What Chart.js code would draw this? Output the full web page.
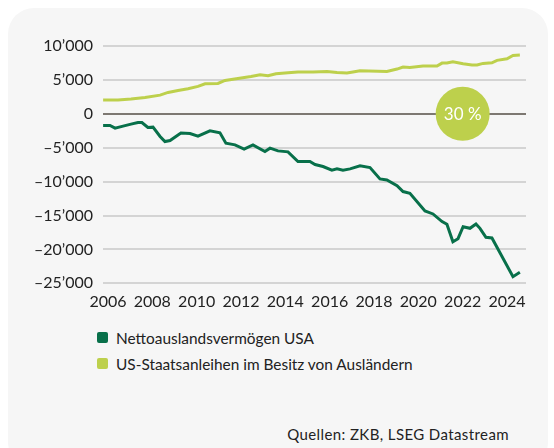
<!DOCTYPE html>
<html>
<head>
<meta charset="utf-8">
<script src="https://cdn.jsdelivr.net/npm/chart.js@4"></script>
<style>
    html, body { margin: 0; padding: 0; background: #ffffff; }
    body { width: 554px; height: 448px; position: relative; overflow: hidden; font-family: Lato, "Noto Sans", sans-serif; color: #222; }
    #panel { position: absolute; left: 8px; top: 8px; width: 540px; height: 460px; background: #f6f6f6; border-radius: 26px; }
    #chart-wrap { position: absolute; left: 0; top: 0; width: 554px; height: 312px; }
    .legend-item { position: absolute; left: 97px; font-size: 15.4px; line-height: 18px; white-space: nowrap; }
    .legend-item span.box { position: absolute; left: 0; top: 3px; width: 11px; height: 11px; border-radius: 2px; }
    .legend-item span.txt { position: absolute; left: 19px; top: 0; }
    #source { position: absolute; right: 45px; top: 425px; font-size: 15px; line-height: 18px; letter-spacing: 0.4px; }
</style>
</head>
<body>
<div id="panel"></div>
<div id="chart-wrap"><canvas id="chart" width="554" height="312"></canvas></div>
<div class="legend-item" id="leg0" style="top: 329px;"><span class="box"></span><span class="txt"></span></div>
<div class="legend-item" id="leg1" style="top: 355px;"><span class="box"></span><span class="txt"></span></div>
<div id="source">Quellen: ZKB, LSEG Datastream</div>

<script>
// Series labels
const seriesNames = ["Nettoauslandsvermögen USA", "US-Staatsanleihen im Besitz von Ausländern"];
const seriesColors = ["#08704a", "#bdd04c"];

// Nettoauslandsvermögen USA (Mrd. USD)
const netYears = [2005.78, 2006.09, 2006.32, 2006.68, 2007.04, 2007.35, 2007.53, 2007.80, 2008.03, 2008.35,
    2008.57, 2008.80, 2009.29, 2009.70, 2010.06, 2010.60, 2011.05, 2011.32, 2011.73, 2012.14,
    2012.54, 2013.08, 2013.31, 2013.67, 2014.12, 2014.57, 2015.11, 2015.34, 2015.70, 2016.10,
    2016.33, 2016.60, 2016.92, 2017.37, 2017.82, 2018.27, 2018.58, 2019.04, 2019.31, 2019.62,
    2020.30, 2020.66, 2021.07, 2021.29, 2021.56, 2021.79, 2022.02, 2022.33, 2022.60, 2022.78,
    2023.05, 2023.32, 2024.27, 2024.58];
const netValues = [-1720, -1720, -2120, -1820, -1520, -1280, -1280, -2020, -1970, -3350,
    -4090, -3940, -2850, -2900, -3300, -2510, -2810, -4330, -4580, -5210,
    -4580, -5570, -5070, -5470, -5610, -7040, -7040, -7480, -7780, -8310,
    -8120, -8310, -8120, -7680, -7930, -9600, -9750, -10590, -11470, -11720,
    -14330, -14770, -15900, -16300, -18860, -18420, -16650, -16890, -16250, -16890,
    -18210, -18310, -24020, -23380];

// US-Staatsanleihen im Besitz von Ausländern (Mrd. USD)
const bondYears = [2005.78, 2006.45, 2007.04, 2007.67, 2008.35, 2008.71, 2009.16, 2009.61, 2010.06, 2010.38,
    2010.96, 2011.28, 2011.86, 2012.45, 2012.86, 2013.22, 2013.58, 2014.12, 2014.57, 2015.25,
    2015.88, 2016.33, 2016.78, 2017.05, 2017.37, 2018.58, 2019.04, 2019.31, 2019.62, 2020.21,
    2020.84, 2021.07, 2021.29, 2021.56, 2022.02, 2022.42, 2022.65, 2022.92, 2023.32, 2023.55,
    2024.00, 2024.27, 2024.58];
const bondValues = [2050, 2050, 2170, 2400, 2750, 3150, 3450, 3700, 4040, 4430,
    4480, 4920, 5210, 5510, 5760, 5610, 5910, 6060, 6160, 6160,
    6250, 6100, 6010, 6160, 6350, 6250, 6600, 6900, 6840, 7040,
    7040, 7480, 7480, 7680, 7390, 7190, 7190, 7430, 7530, 7880,
    8120, 8610, 8660];

// Axis ticks
const xTicks = [2006, 2008, 2010, 2012, 2014, 2016, 2018, 2020, 2022, 2024];
const yTicks = [10000, 5000, 0, -5000, -10000, -15000, -20000, -25000];

// Badge on the zero line
const badgeText = "30 %";
const badgeYear = 2022;
const badgeValue = 0;

const fontFamily = "Lato, 'Noto Sans', sans-serif";

function formatThousands(v) {
    const abs = Math.abs(v);
    let s = abs >= 1000 ? Math.floor(abs / 1000) + "\u2019" + String(abs % 1000).padStart(3, "0") : String(abs);
    return v < 0 ? "\u2013" + s : s;
}

// fill html legend
[0, 1].forEach(i => {
    const el = document.getElementById("leg" + i);
    el.querySelector(".box").style.background = seriesColors[i];
    el.querySelector(".txt").textContent = seriesNames[i];
});

const badgePlugin = {
    id: "badge",
    afterDatasetsDraw(chart) {
        const { ctx, scales } = chart;
        const cx = scales.x.getPixelForValue(badgeYear);
        const cy = scales.y.getPixelForValue(badgeValue);
        ctx.save();
        ctx.beginPath();
        ctx.arc(cx, cy, 27, 0, Math.PI * 2);
        ctx.fillStyle = seriesColors[1];
        ctx.fill();
        ctx.fillStyle = "#ffffff";
        ctx.font = "17px " + fontFamily;
        ctx.textAlign = "center";
        ctx.textBaseline = "middle";
        ctx.fillText(badgeText, cx, cy + 1);
        ctx.restore();
    }
};

const ctx = document.getElementById("chart").getContext("2d");
const chart = new Chart(ctx, {
    type: "line",
    data: {
        datasets: [
            {
                label: seriesNames[1],
                data: bondYears.map((x, i) => ({ x: x, y: bondValues[i] })),
                borderColor: seriesColors[1],
                borderWidth: 3,
                pointRadius: 0,
                tension: 0,
                fill: false
            },
            {
                label: seriesNames[0],
                data: netYears.map((x, i) => ({ x: x, y: netValues[i] })),
                borderColor: seriesColors[0],
                borderWidth: 3,
                pointRadius: 0,
                tension: 0,
                fill: false
            }
        ]
    },
    options: {
        responsive: false,
        animation: false,
        layout: { padding: { left: 0, right: 28, top: 46, bottom: 0 } },
        plugins: {
            legend: { display: false },
            tooltip: { enabled: false }
        },
        scales: {
            x: {
                type: "linear",
                min: 2005.775,
                max: 2024.857,
                afterBuildTicks: (scale) => { scale.ticks = xTicks.map(v => ({ value: v })); },
                afterFit: (scale) => { scale.height = 312 - 283.3; },
                grid: { display: false, drawTicks: false },
                border: { display: false },
                ticks: {
                    color: "#222",
                    font: { family: fontFamily, size: 16 },
                    padding: 9,
                    maxRotation: 0,
                    autoSkip: false,
                    callback: (v) => String(v)
                }
            },
            y: {
                min: -25000,
                max: 10000,
                afterBuildTicks: (scale) => { scale.ticks = yTicks.map(v => ({ value: v })); },
                afterFit: (scale) => { scale.width = 103; },
                grid: {
                    drawTicks: false,
                    lineWidth: 2,
                    color: (c) => c.tick && c.tick.value === 0 ? "#7d7872" : "#d4d4d4"
                },
                border: { display: false },
                ticks: {
                    color: "#222",
                    font: { family: fontFamily, size: 16 },
                    padding: 10,
                    callback: (v) => formatThousands(v)
                }
            }
        }
    },
    plugins: [badgePlugin]
});
</script>
</body>
</html>
